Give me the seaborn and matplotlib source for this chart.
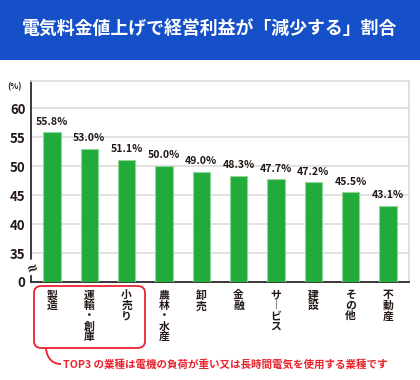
import matplotlib
matplotlib.use("Agg")
import matplotlib.pyplot as plt
import seaborn as sns
from matplotlib.patches import FancyBboxPatch, Rectangle
from matplotlib.path import Path
from matplotlib.patches import PathPatch

# data
categories = ["製造", "運輸・創庫", "小売り", "農林・水産", "卸売", "金融", "サービス", "建設", "その他", "不動産"]
values = [55.8, 53.0, 51.1, 50.0, 49.0, 48.3, 47.7, 47.2, 45.5, 43.1]
yticks = [30, 35, 40, 45, 50, 55, 60]
ytick_labels = ["0", "35", "40", "45", "50", "55", "60"]
title = "電気料金値上げで経営利益が「減少する」割合"
note = "TOP3 の業種は電機の負荷が重い又は長時間電気を使用する業種です"

sns.set_theme(style="white")
plt.rcParams["font.family"] = ["Noto Sans CJK JP", "DejaVu Sans"]

W, H = 420, 380
fig = plt.figure(figsize=(W / 100, H / 100), dpi=100)
fig.patch.set_facecolor("white")


def px(x, y):
    return (x / W, 1 - y / H)


# title banner
fig.patches.append(Rectangle(px(0, 60), 1, 60 / H, transform=fig.transFigure,
                             facecolor="#1550c8", edgecolor="none", zorder=0))
fig.text(*px(210, 30), title, color="white", fontsize=12.9, fontweight="bold",
         ha="center", va="center")

ax = fig.add_axes([31 / W, 1 - 282 / H, 378 / W, 201 / H])
# stack characters for vertical text; long vowel mark turned upright
vertical = ["\n".join("\ufe31" if c == "ー" else c for c in cat) for cat in categories]
sns.barplot(x=vertical, y=values, color="#22aa3a", saturation=1, width=0.46,
            edgecolor="#8fd89a", linewidth=0.8, ax=ax, zorder=3)

ax.set_ylim(30, 64.66)
ax.set_xlim(-0.563, 9.563)
ax.set_yticks(yticks)
ax.set_yticklabels(ytick_labels, fontsize=9.5, fontweight="bold", color="#231815")
ax.yaxis.grid(True, color="#dcdcdc", linewidth=1.2, zorder=0)
ax.set_axisbelow(True)
ax.tick_params(axis="both", length=0, pad=4)
ax.tick_params(axis="x", pad=6)
for lab in ax.get_xticklabels():
    lab.set_fontsize(7.8)
    lab.set_fontweight("bold")
    lab.set_color("#231815")
    lab.set_linespacing(1.05)
    lab.set_va("top")
ax.set_xlabel("")
ax.set_ylabel("")

for s in ["top", "right"]:
    ax.spines[s].set_color("#dcdcdc")
    ax.spines[s].set_linewidth(1.2)
for s in ["left", "bottom"]:
    ax.spines[s].set_color("#2b2b2b")
    ax.spines[s].set_linewidth(1.3)

for i, v in enumerate(values):
    ax.annotate(f"{v:.1f}%", (i, v), xytext=(0, 4), textcoords="offset points",
                ha="center", va="bottom", fontsize=7.6, fontweight="bold",
                color="#231815")

# unit and axis break
fig.text(*px(15, 87), "(%)", fontsize=6, fontweight="bold", color="#231815",
         ha="center", va="center")
fig.text(*px(32, 267), "≈", fontsize=10, fontweight="bold", color="#231815",
         ha="center", va="center", family="DejaVu Sans", rotation=20,
         bbox=dict(facecolor="white", edgecolor="none", pad=0.2))

# red rounded box around top 3
x0, y0 = px(34, 348)
x1, y1 = px(145, 286)
fig.patches.append(FancyBboxPatch((x0, y0), x1 - x0, y1 - y0,
                                  boxstyle="round,pad=0,rounding_size=0.018",
                                  transform=fig.transFigure, facecolor="none",
                                  edgecolor="#e8242f", linewidth=1.3))
verts = [px(46, 348), px(47, 360), px(54, 364), px(61, 364)]
codes = [Path.MOVETO, Path.CURVE4, Path.CURVE4, Path.CURVE4]
fig.patches.append(PathPatch(Path(verts, codes), transform=fig.transFigure,
                             facecolor="none", edgecolor="#e8242f", linewidth=1.3))
fig.text(*px(63, 365), note, fontsize=7.6, fontweight="bold", color="#e8242f",
         ha="left", va="center")

fig.savefig("out.png", dpi=100)
